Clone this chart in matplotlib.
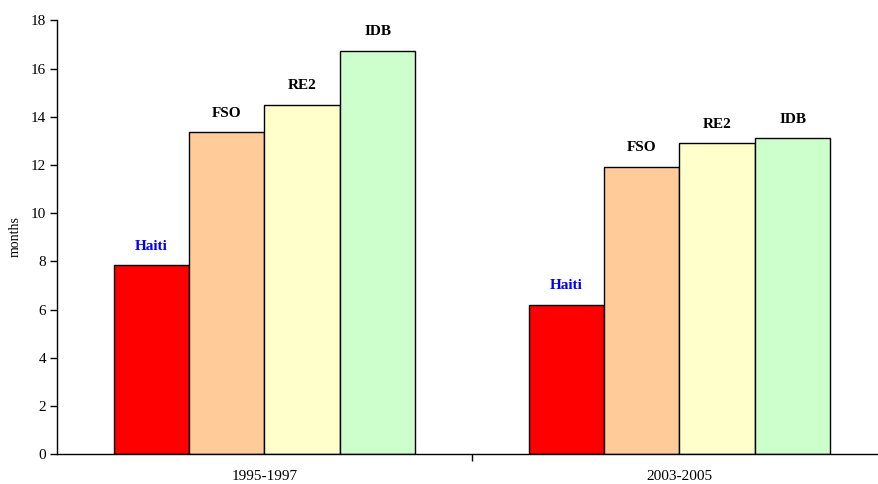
import matplotlib
matplotlib.use("Agg")
import matplotlib.pyplot as plt
import numpy as np

periods = ["1995-1997", "2003-2005"]
series = ["Haiti", "FSO", "RE2", "IDB"]
values = {
    "Haiti": [7.85, 6.20],
    "FSO": [13.36, 11.93],
    "RE2": [14.49, 12.90],
    "IDB": [16.73, 13.11],
}
colors = {"Haiti": "#FF0000", "FSO": "#FFCC99", "RE2": "#FFFFCC", "IDB": "#CCFFCC"}
label_colors = {"Haiti": "#0000FF", "FSO": "black", "RE2": "black", "IDB": "black"}

plt.rcParams['font.family'] = ['Liberation Serif', 'DejaVu Serif']

fig = plt.figure(figsize=(8.79, 4.84), dpi=100)
W, H = 879, 484
left, right, bottom, top = 57, 887, 454.3, 20.3
ax = fig.add_axes([left / W, (H - bottom) / H, (right - left) / W, (bottom - top) / H])

x = np.arange(len(periods))
w = 1 / 5.5
for i, s in enumerate(series):
    xs = x + (i - 1.5) * w
    ax.bar(xs, values[s], width=w, color=colors[s], edgecolor="black", linewidth=1.0, zorder=2)
    for xi, v in zip(xs, values[s]):
        ax.annotate(s, (xi, v), xytext=(0, 19), textcoords="offset pixels",
                    ha="center", va="center", fontsize=11, fontweight="bold",
                    color=label_colors[s])

ax.set_xlim(-0.5, 1.5)
ax.set_ylim(0, 18)
ax.set_yticks(np.arange(0, 19, 2))
ax.tick_params(axis="y", direction="out", length=5, width=1, labelsize=11, pad=3)
ax.set_xticks(x)
ax.set_xticklabels(periods, fontsize=11)
ax.tick_params(axis="x", which="major", length=0, pad=11)
ax.set_xticks([0.5], minor=True)
ax.tick_params(axis="x", which="minor", direction="out", length=5, width=1)

for sp in ["top", "right"]:
    ax.spines[sp].set_visible(False)
for sp in ["left", "bottom"]:
    ax.spines[sp].set_linewidth(1.0)

fig.text(15 / W, 1 - 237 / H, "months", rotation=90, ha="center", va="center", fontsize=10)

fig.savefig("out.png", dpi=100)
